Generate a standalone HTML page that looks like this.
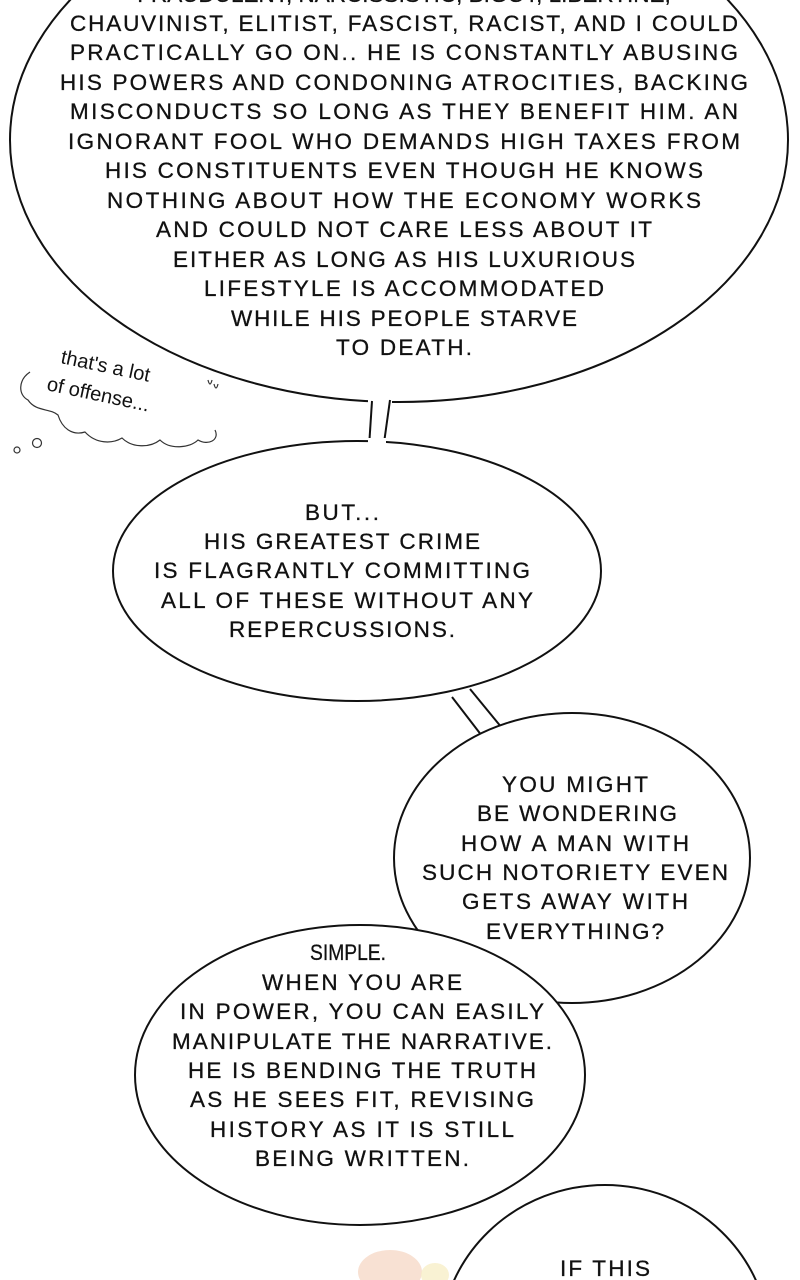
<!DOCTYPE html>
<html><head><meta charset="utf-8"><style>
html,body{margin:0;padding:0;background:#fff;width:800px;height:1280px;overflow:hidden;}
svg{display:block;}
text{font-family:"Liberation Sans",sans-serif;font-size:22.5px;fill:#111;text-anchor:middle;stroke:#111;stroke-width:0.3;}
.t{font-size:20px;text-anchor:start;stroke-width:0;}
</style></head><body>
<svg width="800" height="1280" viewBox="0 0 800 1280" xmlns="http://www.w3.org/2000/svg">
<rect width="800" height="1280" fill="#fff"/>
<ellipse cx="390" cy="1272" rx="32" ry="22" fill="#f6d9c8" opacity="0.8"/>
<ellipse cx="435" cy="1275" rx="14" ry="12" fill="#f8efc8" opacity="0.8"/>
<ellipse cx="399" cy="140" rx="389" ry="262" fill="#fff" stroke="#111" stroke-width="2"/>
<rect x="368" y="398" width="24" height="50" fill="#fff"/>
<line x1="372" y1="401" x2="369" y2="447" stroke="#111" stroke-width="2"/>
<line x1="390" y1="400" x2="384" y2="443" stroke="#111" stroke-width="2"/>
<ellipse cx="357" cy="571" rx="244" ry="130" fill="#fff" stroke="#111" stroke-width="2"/>
<rect x="368" y="438" width="18" height="14" fill="#fff"/>
<polygon points="452,696 470,690 502,730 482,736" fill="#fff"/>
<line x1="452" y1="697" x2="482" y2="736" stroke="#111" stroke-width="2"/>
<line x1="470" y1="689" x2="502" y2="728" stroke="#111" stroke-width="2"/>
<ellipse cx="572" cy="858" rx="178" ry="145" fill="#fff" stroke="#111" stroke-width="2"/>
<ellipse cx="360" cy="1075" rx="225" ry="150" fill="#fff" stroke="#111" stroke-width="2"/>
<ellipse cx="605" cy="1345" rx="165" ry="160" fill="#fff" stroke="#111" stroke-width="2"/>

<text x="404" y="2">FRAUDULENT, NARCISSISTIC, BIGOT, LIBERTINE,</text>
<text x="404" y="31" textLength="668">CHAUVINIST, ELITIST, FASCIST, RACIST, AND I COULD</text>
<text x="404" y="60" textLength="668">PRACTICALLY GO ON.. HE IS CONSTANTLY ABUSING</text>
<text x="404" y="90" textLength="688">HIS POWERS AND CONDONING ATROCITIES, BACKING</text>
<text x="404" y="119" textLength="668">MISCONDUCTS SO LONG AS THEY BENEFIT HIM. AN</text>
<text x="404" y="149" textLength="672">IGNORANT FOOL WHO DEMANDS HIGH TAXES FROM</text>
<text x="404" y="178" textLength="598">HIS CONSTITUENTS EVEN THOUGH HE KNOWS</text>
<text x="404" y="208" textLength="594">NOTHING ABOUT HOW THE ECONOMY WORKS</text>
<text x="404" y="237" textLength="496">AND COULD NOT CARE LESS ABOUT IT</text>
<text x="404" y="267" textLength="462">EITHER AS LONG AS HIS LUXURIOUS</text>
<text x="404" y="296" textLength="400">LIFESTYLE IS ACCOMMODATED</text>
<text x="404" y="326" textLength="346">WHILE HIS PEOPLE STARVE</text>
<text x="404" y="355" textLength="136">TO DEATH.</text>

<text x="342" y="520" textLength="74">BUT...</text>
<text x="342" y="549" textLength="276">HIS GREATEST CRIME</text>
<text x="342" y="578" textLength="376">IS FLAGRANTLY COMMITTING</text>
<text x="347" y="608" textLength="372">ALL OF THESE WITHOUT ANY</text>
<text x="342" y="637" textLength="226">REPERCUSSIONS.</text>

<text x="575" y="792" textLength="146">YOU MIGHT</text>
<text x="577" y="821" textLength="200">BE WONDERING</text>
<text x="575" y="851" textLength="228">HOW A MAN WITH</text>
<text x="575" y="880" textLength="306">SUCH NOTORIETY EVEN</text>
<text x="575" y="909" textLength="226">GETS AWAY WITH</text>
<text x="575" y="939" textLength="178">EVERYTHING?</text>

<text x="348" y="960" textLength="76" lengthAdjust="spacingAndGlyphs">SIMPLE.</text>
<text x="362" y="990" textLength="200">WHEN YOU ARE</text>
<text x="362" y="1019" textLength="364">IN POWER, YOU CAN EASILY</text>
<text x="362" y="1049" textLength="380">MANIPULATE THE NARRATIVE.</text>
<text x="362" y="1078" textLength="348">HE IS BENDING THE TRUTH</text>
<text x="362" y="1107" textLength="344">AS HE SEES FIT, REVISING</text>
<text x="362" y="1137" textLength="304">HISTORY AS IT IS STILL</text>
<text x="362" y="1166" textLength="214">BEING WRITTEN.</text>

<text x="605" y="1276" textLength="90">IF THIS</text>

<path d="M30,372 C18,380 18,395 28,400 C36,412 50,408 58,415 C62,428 72,436 85,432 C96,444 112,444 122,438 C132,448 150,448 160,440 C170,450 190,448 198,440 C208,446 220,440 215,430" fill="none" stroke="#333" stroke-width="1.2"/>
<circle cx="37" cy="443" r="4.5" fill="none" stroke="#333" stroke-width="1.2"/>
<circle cx="17" cy="450" r="3" fill="none" stroke="#333" stroke-width="1.2"/>
<text class="t" x="60" y="363" transform="rotate(12 60 363)">that's a lot</text>
<text class="t" x="46" y="390" transform="rotate(12 46 390)">of offense...</text>
<path d="M208,380 q2,8 4,0 M214,384 q2,8 4,0" fill="none" stroke="#333" stroke-width="1.2"/>
</svg>
</body></html>
